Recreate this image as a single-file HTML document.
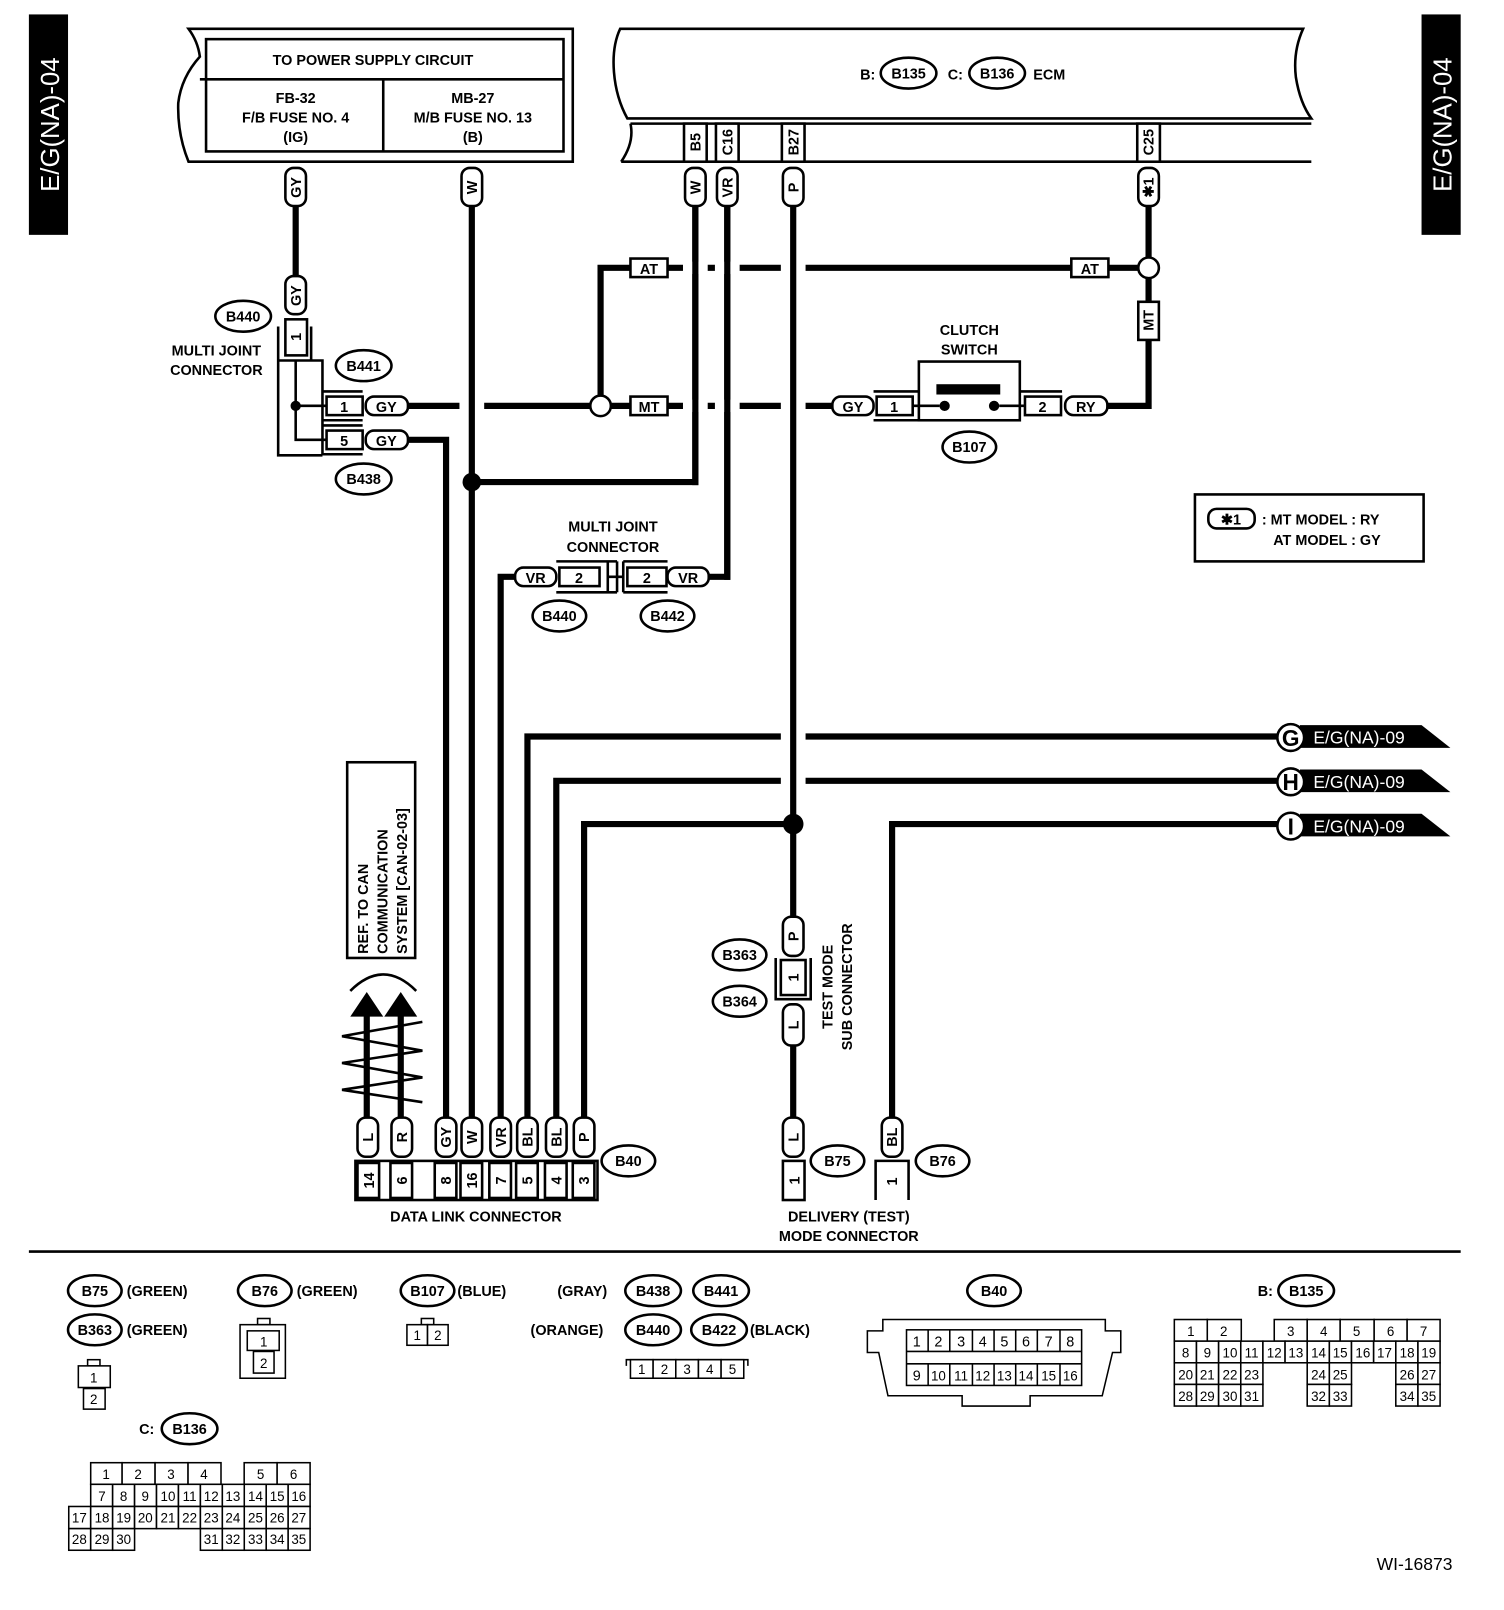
<!DOCTYPE html>
<html><head><meta charset="utf-8">
<style>
html,body{margin:0;padding:0;background:#fff;}
svg{display:block;}
text{font-family:"Liberation Sans",sans-serif;font-weight:bold;fill:#000;}
.t{font-size:14px;}
.n{font-size:13px;font-weight:normal;}
.pl{fill:#fff;stroke:#000;stroke-width:2.5;}
.bx{fill:#fff;stroke:#000;stroke-width:2.5;}
.w{stroke:#000;stroke-width:6;fill:none;}
.thin{stroke:#000;stroke-width:2.5;fill:none;}
.g{fill:#fff;stroke:#000;stroke-width:1.5;}
</style></head><body>
<svg width="1504" height="1610" viewBox="0 0 1460 1563" xmlns="http://www.w3.org/2000/svg">
<rect x="0" y="0" width="1460" height="1563" fill="#fff"/>

<!-- side tabs -->
<rect x="28" y="14" width="38" height="214" fill="#000"/>
<text transform="translate(57,121) rotate(-90)" text-anchor="middle" style="font-size:25px;font-weight:normal;fill:#fff">E/G(NA)-04</text>
<rect x="1380" y="14" width="38" height="214" fill="#000"/>
<text transform="translate(1409,121) rotate(-90)" text-anchor="middle" style="font-size:25px;font-weight:normal;fill:#fff">E/G(NA)-04</text>

<!-- power supply box -->
<path d="M183,28 L556,28 L556,157 L183,157 Q172,130 173,100 Q176,75 194,55 Q192,40 183,28 Z" class="thin" stroke-width="3"/>
<rect x="200" y="38" width="347" height="109" class="thin" stroke-width="3"/>
<line x1="194" y1="77" x2="547" y2="77" class="thin" stroke-width="3"/>
<line x1="372" y1="77" x2="372" y2="147" class="thin" stroke-width="3"/>
<text x="362" y="63" text-anchor="middle" class="t">TO POWER SUPPLY CIRCUIT</text>
<text x="287" y="100" text-anchor="middle" class="t">FB-32</text>
<text x="287" y="119" text-anchor="middle" class="t">F/B FUSE NO. 4</text>
<text x="287" y="138" text-anchor="middle" class="t">(IG)</text>
<text x="459" y="100" text-anchor="middle" class="t">MB-27</text>
<text x="459" y="119" text-anchor="middle" class="t">M/B FUSE NO. 13</text>
<text x="459" y="138" text-anchor="middle" class="t">(B)</text>

<!-- ECM box -->
<path d="M602,28 L1265,28 Q1255,50 1258,75 Q1262,100 1273,115 L609,115 Q598,95 596,70 Q594,45 602,28 Z" class="thin" stroke-width="3"/>
<path d="M612,120 L1273,120 M603,157 L1273,157 M612,120 Q616,138 603,157" class="thin" stroke-width="3"/>
<text x="835" y="77" class="t">B:</text>
<ellipse cx="882" cy="71" rx="27" ry="15" class="pl"/><text x="882" y="76" text-anchor="middle" class="t">B135</text>
<text x="920" y="77" class="t">C:</text>
<ellipse cx="968" cy="71" rx="27" ry="15" class="pl"/><text x="968" y="76" text-anchor="middle" class="t">B136</text>
<text x="1003" y="77" class="t">ECM</text>
<rect x="664" y="120" width="22" height="37" class="bx"/><text transform="translate(680,138) rotate(-90)" text-anchor="middle" class="t">B5</text>
<rect x="695" y="120" width="22" height="37" class="bx"/><text transform="translate(711,138) rotate(-90)" text-anchor="middle" class="t">C16</text>
<rect x="759" y="120" width="22" height="37" class="bx"/><text transform="translate(775,138) rotate(-90)" text-anchor="middle" class="t">B27</text>
<rect x="1104" y="120" width="22" height="37" class="bx"/><text transform="translate(1120,138) rotate(-90)" text-anchor="middle" class="t">C25</text>

<!-- horizontal wires -->
<polyline points="396,394 583,394" class="w"/>
<polyline points="583,394 583,260 1115,260" class="w"/>
<polyline points="583,394 808,394" class="w"/>
<polyline points="1075,394 1115,394 1115,200" class="w"/>
<polyline points="396,427 433,427 433,1085" class="w"/>
<polyline points="458,468 675,468 675,200" class="w"/>
<polyline points="706,200 706,560 688,560" class="w"/>
<polyline points="500,560 486,560 486,1085" class="w"/>
<polyline points="512,1085 512,715 1240,715" class="w"/>
<polyline points="540,1085 540,758 1240,758" class="w"/>
<polyline points="567,1085 567,800 770,800" class="w"/>
<polyline points="866,1085 866,800 1240,800" class="w"/>
<g fill="#fff">
<rect x="446" y="388" width="24" height="12"/>
<rect x="663" y="388" width="24" height="12"/>
<rect x="694" y="388" width="24" height="12"/>
<rect x="758" y="388" width="24" height="12"/>
<rect x="663" y="254" width="24" height="12"/>
<rect x="694" y="254" width="24" height="12"/>
<rect x="758" y="254" width="24" height="12"/>
<rect x="758" y="709" width="24" height="12"/>
<rect x="758" y="752" width="24" height="12"/>
</g>
<line x1="287" y1="200" x2="287" y2="268" class="w"/>
<line x1="458" y1="200" x2="458" y2="1085" class="w"/>
<line x1="675" y1="200" x2="675" y2="471" class="w"/>
<line x1="706" y1="200" x2="706" y2="563" class="w"/>
<line x1="770" y1="200" x2="770" y2="890" class="w"/>
<line x1="770" y1="1015" x2="770" y2="1085" class="w"/>
<circle cx="458" cy="468" r="9" fill="#000"/>
<circle cx="770" cy="800" r="10" fill="#000"/>
<circle cx="583" cy="394" r="10" fill="#fff" stroke="#000" stroke-width="2.5"/>
<circle cx="1115" cy="260" r="10" fill="#fff" stroke="#000" stroke-width="2.5"/>

<g>
<rect x="277" y="163" width="20" height="37" rx="8" class="pl"/><text transform="translate(292,182) rotate(-90)" text-anchor="middle" class="t">GY</text>
<rect x="448" y="163" width="20" height="37" rx="8" class="pl"/><text transform="translate(463,182) rotate(-90)" text-anchor="middle" class="t">W</text>
<rect x="665" y="163" width="20" height="37" rx="8" class="pl"/><text transform="translate(680,182) rotate(-90)" text-anchor="middle" class="t">W</text>
<rect x="696" y="163" width="20" height="37" rx="8" class="pl"/><text transform="translate(711,182) rotate(-90)" text-anchor="middle" class="t">VR</text>
<rect x="760" y="163" width="20" height="37" rx="8" class="pl"/><text transform="translate(775,182) rotate(-90)" text-anchor="middle" class="t">P</text>
<rect x="1105" y="163" width="20" height="37" rx="8" class="pl"/><text transform="translate(1120,182) rotate(-90)" text-anchor="middle" class="t">✱1</text>
<rect x="277" y="268" width="20" height="37" rx="8" class="pl"/><text transform="translate(292,287) rotate(-90)" text-anchor="middle" class="t">GY</text>
</g>

<rect x="612" y="251" width="36" height="18" class="bx"/><text x="630" y="266" text-anchor="middle" class="t">AT</text>
<rect x="1040" y="251" width="36" height="18" class="bx"/><text x="1058" y="266" text-anchor="middle" class="t">AT</text>
<rect x="612" y="385" width="36" height="18" class="bx"/><text x="630" y="400" text-anchor="middle" class="t">MT</text>
<rect x="1105" y="293" width="20" height="37" class="bx"/><text transform="translate(1120,311) rotate(-90)" text-anchor="middle" class="t">MT</text>

<ellipse cx="236" cy="307" rx="27" ry="15" class="pl"/><text x="236" y="312" text-anchor="middle" class="t">B440</text>
<text x="210" y="345" text-anchor="middle" class="t">MULTI JOINT</text>
<text x="210" y="364" text-anchor="middle" class="t">CONNECTOR</text>
<rect x="277" y="310" width="21" height="35" class="bx"/><text transform="translate(292,327) rotate(-90)" text-anchor="middle" class="t">1</text>
<path d="M270,317 L270,442 L313,442 M302,317 L302,350 L313,350 L313,442 M270,350 L302,350" class="thin"/>
<path d="M287,350 L287,427 L316,427 M287,394 L316,394" class="thin"/>
<circle cx="287" cy="394" r="5" fill="#000"/>
<path d="M313,380 L352,380 M313,408 L352,408 M313,413 L352,413 M313,441 L352,441" class="thin" stroke-width="2"/>
<rect x="317" y="385" width="35" height="18" class="bx"/><text x="334" y="400" text-anchor="middle" class="t">1</text>
<rect x="317" y="418" width="35" height="18" class="bx"/><text x="334" y="433" text-anchor="middle" class="t">5</text>
<rect x="355" y="385" width="41" height="18" rx="8" class="pl"/><text x="375" y="400" text-anchor="middle" class="t">GY</text>
<rect x="355" y="418" width="41" height="18" rx="8" class="pl"/><text x="375" y="433" text-anchor="middle" class="t">GY</text>
<ellipse cx="353" cy="355" rx="27" ry="15" class="pl"/><text x="353" y="360" text-anchor="middle" class="t">B441</text>
<ellipse cx="353" cy="465" rx="27" ry="15" class="pl"/><text x="353" y="470" text-anchor="middle" class="t">B438</text>

<text x="941" y="325" text-anchor="middle" class="t">CLUTCH</text>
<text x="941" y="344" text-anchor="middle" class="t">SWITCH</text>
<rect x="808" y="385" width="40" height="18" rx="8" class="pl"/><text x="828" y="400" text-anchor="middle" class="t">GY</text>
<path d="M848,380 L892,380 M848,408 L990,408 M990,380 L1031,380" class="thin" stroke-width="2"/>
<rect x="851" y="385" width="35" height="18" class="bx"/><text x="868" y="400" text-anchor="middle" class="t">1</text>
<rect x="892" y="351" width="98" height="57" class="bx"/>
<rect x="909" y="373" width="62" height="10" fill="#000"/>
<circle cx="917" cy="394" r="5" fill="#000"/><circle cx="965" cy="394" r="5" fill="#000"/>
<line x1="886" y1="394" x2="912" y2="394" class="thin" stroke-width="2"/>
<line x1="970" y1="394" x2="995" y2="394" class="thin" stroke-width="2"/>
<rect x="995" y="385" width="35" height="18" class="bx"/><text x="1012" y="400" text-anchor="middle" class="t">2</text>
<rect x="1034" y="385" width="41" height="18" rx="8" class="pl"/><text x="1054" y="400" text-anchor="middle" class="t">RY</text>
<ellipse cx="941" cy="434" rx="26" ry="15" class="pl"/><text x="941" y="439" text-anchor="middle" class="t">B107</text>

<rect x="1160" y="480" width="222" height="65" class="thin"/>
<rect x="1173" y="494" width="45" height="19" rx="8" class="pl"/><text x="1195" y="509" text-anchor="middle" class="t">✱1</text>
<text x="1225" y="509" class="t">: MT MODEL : RY</text>
<text x="1236" y="529" class="t">AT MODEL  : GY</text>

<text x="595" y="516" text-anchor="middle" class="t">MULTI JOINT</text>
<text x="595" y="536" text-anchor="middle" class="t">CONNECTOR</text>
<path d="M540,545 L599,545 M540,575 L599,575 M605,545 L648,545 M605,575 L648,575 M590,545 L590,575 M605,545 L605,575 M590,560 L605,560 M599,545 L599,575" class="thin" stroke-width="2"/>
<rect x="500" y="551" width="40" height="18" rx="8" class="pl"/><text x="520" y="566" text-anchor="middle" class="t">VR</text>
<rect x="543" y="551" width="39" height="18" class="bx"/><text x="562" y="566" text-anchor="middle" class="t">2</text>
<rect x="609" y="551" width="38" height="18" class="bx"/><text x="628" y="566" text-anchor="middle" class="t">2</text>
<rect x="648" y="551" width="40" height="18" rx="8" class="pl"/><text x="668" y="566" text-anchor="middle" class="t">VR</text>
<ellipse cx="543" cy="598" rx="26" ry="15" class="pl"/><text x="543" y="603" text-anchor="middle" class="t">B440</text>
<ellipse cx="648" cy="598" rx="26" ry="15" class="pl"/><text x="648" y="603" text-anchor="middle" class="t">B442</text>

<g>
<path d="M1262,704 L1380,704 L1408,726 L1262,726 Z" fill="#000"/>
<circle cx="1253" cy="716" r="13" fill="#fff" stroke="#000" stroke-width="2.5"/>
<text x="1253" y="724" text-anchor="middle" style="font-size:22px">G</text>
<text x="1275" y="722" style="font-size:17px;font-weight:normal;fill:#fff">E/G(NA)-09</text>
<path d="M1262,747 L1380,747 L1408,769 L1262,769 Z" fill="#000"/>
<circle cx="1253" cy="759" r="13" fill="#fff" stroke="#000" stroke-width="2.5"/>
<text x="1253" y="767" text-anchor="middle" style="font-size:22px">H</text>
<text x="1275" y="765" style="font-size:17px;font-weight:normal;fill:#fff">E/G(NA)-09</text>
<path d="M1262,790 L1380,790 L1408,812 L1262,812 Z" fill="#000"/>
<circle cx="1253" cy="802" r="13" fill="#fff" stroke="#000" stroke-width="2.5"/>
<text x="1253" y="810" text-anchor="middle" style="font-size:22px">I</text>
<text x="1275" y="808" style="font-size:17px;font-weight:normal;fill:#fff">E/G(NA)-09</text>
</g>

<rect x="337" y="740" width="66" height="190" class="thin"/>
<text transform="translate(357,926) rotate(-90)" class="t">REF. TO CAN</text>
<text transform="translate(376,926) rotate(-90)" class="t">COMMUNICATION</text>
<text transform="translate(395,926) rotate(-90)" class="t">SYSTEM [CAN-02-03]</text>

<path d="M340,962 Q372,930 404,962" class="thin" stroke-width="2"/>
<line x1="356" y1="980" x2="356" y2="1085" class="w" stroke-width="7"/>
<line x1="389" y1="980" x2="389" y2="1085" class="w" stroke-width="7"/>
<polygon points="356,963 340,987 372,987" fill="#000"/>
<polygon points="389,963 373,987 405,987" fill="#000"/>
<polyline points="410,992 332,1006 410,1020 332,1032 410,1046 332,1058 410,1070" class="thin" stroke-width="3"/>

<g>
<rect x="347" y="1085" width="20" height="38" rx="8" class="pl"/><text transform="translate(362,1104) rotate(-90)" text-anchor="middle" class="t">L</text>
<rect x="380" y="1085" width="20" height="38" rx="8" class="pl"/><text transform="translate(395,1104) rotate(-90)" text-anchor="middle" class="t">R</text>
<rect x="423" y="1085" width="20" height="38" rx="8" class="pl"/><text transform="translate(438,1104) rotate(-90)" text-anchor="middle" class="t">GY</text>
<rect x="448" y="1085" width="20" height="38" rx="8" class="pl"/><text transform="translate(463,1104) rotate(-90)" text-anchor="middle" class="t">W</text>
<rect x="476" y="1085" width="20" height="38" rx="8" class="pl"/><text transform="translate(491,1104) rotate(-90)" text-anchor="middle" class="t">VR</text>
<rect x="502" y="1085" width="20" height="38" rx="8" class="pl"/><text transform="translate(517,1104) rotate(-90)" text-anchor="middle" class="t">BL</text>
<rect x="530" y="1085" width="20" height="38" rx="8" class="pl"/><text transform="translate(545,1104) rotate(-90)" text-anchor="middle" class="t">BL</text>
<rect x="557" y="1085" width="20" height="38" rx="8" class="pl"/><text transform="translate(572,1104) rotate(-90)" text-anchor="middle" class="t">P</text>
</g>
<rect x="345" y="1127" width="235" height="38" class="bx"/>
<g class="thin" stroke-width="2">
<rect x="347" y="1129" width="21" height="34"/><rect x="379" y="1129" width="21" height="34"/>
<rect x="422" y="1129" width="21" height="34"/><rect x="447" y="1129" width="21" height="34"/>
<rect x="475" y="1129" width="21" height="34"/><rect x="501" y="1129" width="21" height="34"/>
<rect x="529" y="1129" width="21" height="34"/><rect x="556" y="1129" width="21" height="34"/>
</g>
<text transform="translate(363,1146) rotate(-90)" text-anchor="middle" class="t">14</text>
<text transform="translate(395,1146) rotate(-90)" text-anchor="middle" class="t">6</text>
<text transform="translate(438,1146) rotate(-90)" text-anchor="middle" class="t">8</text>
<text transform="translate(463,1146) rotate(-90)" text-anchor="middle" class="t">16</text>
<text transform="translate(491,1146) rotate(-90)" text-anchor="middle" class="t">7</text>
<text transform="translate(517,1146) rotate(-90)" text-anchor="middle" class="t">5</text>
<text transform="translate(545,1146) rotate(-90)" text-anchor="middle" class="t">4</text>
<text transform="translate(572,1146) rotate(-90)" text-anchor="middle" class="t">3</text>
<ellipse cx="610" cy="1127" rx="26" ry="15" class="pl"/><text x="610" y="1132" text-anchor="middle" class="t">B40</text>
<text x="462" y="1186" text-anchor="middle" class="t">DATA LINK CONNECTOR</text>

<rect x="760" y="890" width="20" height="38" rx="8" class="pl"/><text transform="translate(775,909) rotate(-90)" text-anchor="middle" class="t">P</text>
<path d="M753,930 L753,970 L787,970 L787,930" class="thin" stroke-width="2"/>
<rect x="758" y="932" width="24" height="34" class="bx"/><text transform="translate(775,949) rotate(-90)" text-anchor="middle" class="t">1</text>
<rect x="760" y="975" width="20" height="40" rx="8" class="pl"/><text transform="translate(775,995) rotate(-90)" text-anchor="middle" class="t">L</text>
<ellipse cx="718" cy="927" rx="26" ry="15" class="pl"/><text x="718" y="932" text-anchor="middle" class="t">B363</text>
<ellipse cx="718" cy="972" rx="26" ry="15" class="pl"/><text x="718" y="977" text-anchor="middle" class="t">B364</text>
<text transform="translate(808,958) rotate(-90)" text-anchor="middle" class="t">TEST MODE</text>
<text transform="translate(827,958) rotate(-90)" text-anchor="middle" class="t">SUB CONNECTOR</text>

<rect x="760" y="1085" width="20" height="38" rx="8" class="pl"/><text transform="translate(775,1104) rotate(-90)" text-anchor="middle" class="t">L</text>
<rect x="760" y="1127" width="21" height="38" class="bx"/><text transform="translate(776,1146) rotate(-90)" text-anchor="middle" class="t">1</text>
<ellipse cx="813" cy="1127" rx="26" ry="15" class="pl"/><text x="813" y="1132" text-anchor="middle" class="t">B75</text>
<rect x="856" y="1085" width="20" height="38" rx="8" class="pl"/><text transform="translate(871,1104) rotate(-90)" text-anchor="middle" class="t">BL</text>
<path d="M850,1165 L850,1127 L882,1127 L882,1165" class="thin"/>
<text transform="translate(871,1147) rotate(-90)" text-anchor="middle" class="t">1</text>
<ellipse cx="915" cy="1127" rx="26" ry="15" class="pl"/><text x="915" y="1132" text-anchor="middle" class="t">B76</text>
<text x="824" y="1186" text-anchor="middle" class="t">DELIVERY (TEST)</text>
<text x="824" y="1205" text-anchor="middle" class="t">MODE CONNECTOR</text>

<line x1="28" y1="1215" x2="1418" y2="1215" class="thin" stroke-width="3"/>

<ellipse cx="92" cy="1253" rx="26" ry="15" class="pl"/><text x="92" y="1258" text-anchor="middle" class="t">B75</text>
<text x="123" y="1258" class="t">(GREEN)</text>
<ellipse cx="92" cy="1291" rx="26" ry="15" class="pl"/><text x="92" y="1296" text-anchor="middle" class="t">B363</text>
<text x="123" y="1296" class="t">(GREEN)</text>
<rect x="85" y="1320" width="12" height="6" class="g"/>
<rect x="76" y="1326" width="31" height="21" class="g"/><text x="91" y="1342" text-anchor="middle" class="n">1</text>
<rect x="81" y="1348" width="21" height="20" class="g"/><text x="91" y="1363" text-anchor="middle" class="n">2</text>

<ellipse cx="257" cy="1253" rx="26" ry="15" class="pl"/><text x="257" y="1258" text-anchor="middle" class="t">B76</text>
<text x="288" y="1258" class="t">(GREEN)</text>
<rect x="250" y="1280" width="12" height="6" class="g"/>
<rect x="233" y="1286" width="44" height="52" class="g"/>
<rect x="240" y="1292" width="31" height="19" class="g"/><text x="256" y="1307" text-anchor="middle" class="n">1</text>
<rect x="246" y="1312" width="20" height="21" class="g"/><text x="256" y="1328" text-anchor="middle" class="n">2</text>

<ellipse cx="415" cy="1253" rx="26" ry="15" class="pl"/><text x="415" y="1258" text-anchor="middle" class="t">B107</text>
<text x="444" y="1258" class="t">(BLUE)</text>
<rect x="409" y="1280" width="12" height="6" class="g"/>
<rect x="395" y="1286" width="20" height="20" class="g"/><text x="405" y="1301" text-anchor="middle" class="n">1</text>
<rect x="415" y="1286" width="20" height="20" class="g"/><text x="425" y="1301" text-anchor="middle" class="n">2</text>

<text x="541" y="1258" class="t">(GRAY)</text>
<ellipse cx="634" cy="1253" rx="27" ry="15" class="pl"/><text x="634" y="1258" text-anchor="middle" class="t">B438</text>
<ellipse cx="700" cy="1253" rx="27" ry="15" class="pl"/><text x="700" y="1258" text-anchor="middle" class="t">B441</text>
<text x="515" y="1296" class="t">(ORANGE)</text>
<ellipse cx="634" cy="1291" rx="27" ry="15" class="pl"/><text x="634" y="1296" text-anchor="middle" class="t">B440</text>
<ellipse cx="698" cy="1291" rx="27" ry="15" class="pl"/><text x="698" y="1296" text-anchor="middle" class="t">B422</text>
<text x="728" y="1296" class="t">(BLACK)</text>
<path d="M608,1326 L608,1320 L726,1320 L726,1326" class="g" fill="none"/>
<g>
<rect x="612" y="1320" width="22" height="18" class="g"/><text x="623" y="1334" text-anchor="middle" class="n">1</text>
<rect x="634" y="1320" width="22" height="18" class="g"/><text x="645" y="1334" text-anchor="middle" class="n">2</text>
<rect x="656" y="1320" width="22" height="18" class="g"/><text x="667" y="1334" text-anchor="middle" class="n">3</text>
<rect x="678" y="1320" width="22" height="18" class="g"/><text x="689" y="1334" text-anchor="middle" class="n">4</text>
<rect x="700" y="1320" width="22" height="18" class="g"/><text x="711" y="1334" text-anchor="middle" class="n">5</text>
</g>

<ellipse cx="965" cy="1253" rx="26" ry="15" class="pl"/><text x="965" y="1258" text-anchor="middle" class="t">B40</text>
<path d="M857,1281 L1073,1281 L1073,1292 L1088,1292 L1088,1313 L1080,1313 L1070,1355 L1000,1355 L1000,1365 L934,1365 L934,1355 L862,1355 L853,1313 L842,1313 L842,1292 L857,1292 Z" class="g" fill="#fff"/>
<rect x="880" y="1291" width="170" height="54" class="g"/>
<line x1="880" y1="1312" x2="1050" y2="1312" class="g"/><line x1="880" y1="1324" x2="1050" y2="1324" class="g"/>
<g class="g">
<line x1="901" y1="1291" x2="901" y2="1312"/><line x1="922" y1="1291" x2="922" y2="1312"/><line x1="944" y1="1291" x2="944" y2="1312"/><line x1="965" y1="1291" x2="965" y2="1312"/><line x1="986" y1="1291" x2="986" y2="1312"/><line x1="1007" y1="1291" x2="1007" y2="1312"/><line x1="1029" y1="1291" x2="1029" y2="1312"/>
<line x1="901" y1="1324" x2="901" y2="1345"/><line x1="922" y1="1324" x2="922" y2="1345"/><line x1="944" y1="1324" x2="944" y2="1345"/><line x1="965" y1="1324" x2="965" y2="1345"/><line x1="986" y1="1324" x2="986" y2="1345"/><line x1="1007" y1="1324" x2="1007" y2="1345"/><line x1="1029" y1="1324" x2="1029" y2="1345"/>
</g>
<g>
<text x="890" y="1307" text-anchor="middle" class="n" style="font-size:14px">1</text><text x="911" y="1307" text-anchor="middle" class="n" style="font-size:14px">2</text><text x="933" y="1307" text-anchor="middle" class="n" style="font-size:14px">3</text><text x="954" y="1307" text-anchor="middle" class="n" style="font-size:14px">4</text><text x="975" y="1307" text-anchor="middle" class="n" style="font-size:14px">5</text><text x="996" y="1307" text-anchor="middle" class="n" style="font-size:14px">6</text><text x="1018" y="1307" text-anchor="middle" class="n" style="font-size:14px">7</text><text x="1039" y="1307" text-anchor="middle" class="n" style="font-size:14px">8</text>
<text x="890" y="1340" text-anchor="middle" class="n" style="font-size:14px">9</text><text x="911" y="1340" text-anchor="middle" class="n">10</text><text x="933" y="1340" text-anchor="middle" class="n">11</text><text x="954" y="1340" text-anchor="middle" class="n">12</text><text x="975" y="1340" text-anchor="middle" class="n">13</text><text x="996" y="1340" text-anchor="middle" class="n">14</text><text x="1018" y="1340" text-anchor="middle" class="n">15</text><text x="1039" y="1340" text-anchor="middle" class="n">16</text>
</g>

<text x="1221" y="1258" class="t">B:</text>
<ellipse cx="1268" cy="1253" rx="27" ry="15" class="pl"/><text x="1268" y="1258" text-anchor="middle" class="t">B135</text>
<g class="g">
<rect x="1140" y="1281" width="32" height="21"/><rect x="1172" y="1281" width="33" height="21"/>
<rect x="1237" y="1281" width="32" height="21"/><rect x="1269" y="1281" width="32" height="21"/><rect x="1301" y="1281" width="33" height="21"/><rect x="1334" y="1281" width="32" height="21"/><rect x="1366" y="1281" width="32" height="21"/>
<rect x="1140" y="1302" width="21.5" height="21"/><rect x="1161.5" y="1302" width="21.5" height="21"/><rect x="1183" y="1302" width="21.5" height="21"/><rect x="1204.5" y="1302" width="21.5" height="21"/><rect x="1226" y="1302" width="21.5" height="21"/><rect x="1247.5" y="1302" width="21.5" height="21"/><rect x="1269" y="1302" width="21.5" height="21"/><rect x="1290.5" y="1302" width="21.5" height="21"/><rect x="1312" y="1302" width="21.5" height="21"/><rect x="1333.5" y="1302" width="21.5" height="21"/><rect x="1355" y="1302" width="21.5" height="21"/><rect x="1376.5" y="1302" width="21.5" height="21"/>
<rect x="1140" y="1323" width="21.5" height="21"/><rect x="1161.5" y="1323" width="21.5" height="21"/><rect x="1183" y="1323" width="21.5" height="21"/><rect x="1204.5" y="1323" width="21.5" height="21"/><rect x="1269" y="1323" width="21.5" height="21"/><rect x="1290.5" y="1323" width="21.5" height="21"/><rect x="1355" y="1323" width="21.5" height="21"/><rect x="1376.5" y="1323" width="21.5" height="21"/>
<rect x="1140" y="1344" width="21.5" height="21"/><rect x="1161.5" y="1344" width="21.5" height="21"/><rect x="1183" y="1344" width="21.5" height="21"/><rect x="1204.5" y="1344" width="21.5" height="21"/><rect x="1269" y="1344" width="21.5" height="21"/><rect x="1290.5" y="1344" width="21.5" height="21"/><rect x="1355" y="1344" width="21.5" height="21"/><rect x="1376.5" y="1344" width="21.5" height="21"/>
</g>
<g>
<text x="1156" y="1297" text-anchor="middle" class="n">1</text><text x="1188" y="1297" text-anchor="middle" class="n">2</text><text x="1253" y="1297" text-anchor="middle" class="n">3</text><text x="1285" y="1297" text-anchor="middle" class="n">4</text><text x="1317" y="1297" text-anchor="middle" class="n">5</text><text x="1350" y="1297" text-anchor="middle" class="n">6</text><text x="1382" y="1297" text-anchor="middle" class="n">7</text>
<text x="1151" y="1318" text-anchor="middle" class="n">8</text><text x="1172" y="1318" text-anchor="middle" class="n">9</text><text x="1194" y="1318" text-anchor="middle" class="n">10</text><text x="1215" y="1318" text-anchor="middle" class="n">11</text><text x="1237" y="1318" text-anchor="middle" class="n">12</text><text x="1258" y="1318" text-anchor="middle" class="n">13</text><text x="1280" y="1318" text-anchor="middle" class="n">14</text><text x="1301" y="1318" text-anchor="middle" class="n">15</text><text x="1323" y="1318" text-anchor="middle" class="n">16</text><text x="1344" y="1318" text-anchor="middle" class="n">17</text><text x="1366" y="1318" text-anchor="middle" class="n">18</text><text x="1387" y="1318" text-anchor="middle" class="n">19</text>
<text x="1151" y="1339" text-anchor="middle" class="n">20</text><text x="1172" y="1339" text-anchor="middle" class="n">21</text><text x="1194" y="1339" text-anchor="middle" class="n">22</text><text x="1215" y="1339" text-anchor="middle" class="n">23</text><text x="1280" y="1339" text-anchor="middle" class="n">24</text><text x="1301" y="1339" text-anchor="middle" class="n">25</text><text x="1366" y="1339" text-anchor="middle" class="n">26</text><text x="1387" y="1339" text-anchor="middle" class="n">27</text>
<text x="1151" y="1360" text-anchor="middle" class="n">28</text><text x="1172" y="1360" text-anchor="middle" class="n">29</text><text x="1194" y="1360" text-anchor="middle" class="n">30</text><text x="1215" y="1360" text-anchor="middle" class="n">31</text><text x="1280" y="1360" text-anchor="middle" class="n">32</text><text x="1301" y="1360" text-anchor="middle" class="n">33</text><text x="1366" y="1360" text-anchor="middle" class="n">34</text><text x="1387" y="1360" text-anchor="middle" class="n">35</text>
</g>

<text x="135" y="1392" class="t">C:</text>
<ellipse cx="184" cy="1387" rx="27" ry="15" class="pl"/><text x="184" y="1392" text-anchor="middle" class="t">B136</text>
<g class="g">
<rect x="88" y="1420" width="30.5" height="21"/><rect x="118.5" y="1420" width="32" height="21"/><rect x="150.5" y="1420" width="32" height="21"/><rect x="182.5" y="1420" width="32" height="21"/><rect x="237" y="1420" width="32" height="21"/><rect x="269" y="1420" width="32" height="21"/>
<rect x="88" y="1441" width="21.3" height="21.5"/><rect x="109.3" y="1441" width="21.3" height="21.5"/><rect x="130.6" y="1441" width="21.3" height="21.5"/><rect x="151.9" y="1441" width="21.3" height="21.5"/><rect x="173.2" y="1441" width="21.3" height="21.5"/><rect x="194.5" y="1441" width="21.3" height="21.5"/><rect x="215.8" y="1441" width="21.3" height="21.5"/><rect x="237.1" y="1441" width="21.3" height="21.5"/><rect x="258.4" y="1441" width="21.3" height="21.5"/><rect x="279.7" y="1441" width="21.3" height="21.5"/>
<rect x="66.7" y="1462.5" width="21.3" height="21.5"/><rect x="88" y="1462.5" width="21.3" height="21.5"/><rect x="109.3" y="1462.5" width="21.3" height="21.5"/><rect x="130.6" y="1462.5" width="21.3" height="21.5"/><rect x="151.9" y="1462.5" width="21.3" height="21.5"/><rect x="173.2" y="1462.5" width="21.3" height="21.5"/><rect x="194.5" y="1462.5" width="21.3" height="21.5"/><rect x="215.8" y="1462.5" width="21.3" height="21.5"/><rect x="237.1" y="1462.5" width="21.3" height="21.5"/><rect x="258.4" y="1462.5" width="21.3" height="21.5"/><rect x="279.7" y="1462.5" width="21.3" height="21.5"/>
<rect x="66.7" y="1484" width="21.3" height="21"/><rect x="88" y="1484" width="21.3" height="21"/><rect x="109.3" y="1484" width="21.3" height="21"/><rect x="194.5" y="1484" width="21.3" height="21"/><rect x="215.8" y="1484" width="21.3" height="21"/><rect x="237.1" y="1484" width="21.3" height="21"/><rect x="258.4" y="1484" width="21.3" height="21"/><rect x="279.7" y="1484" width="21.3" height="21"/>
</g>
<g>
<text x="103" y="1436" text-anchor="middle" class="n">1</text><text x="134" y="1436" text-anchor="middle" class="n">2</text><text x="166" y="1436" text-anchor="middle" class="n">3</text><text x="198" y="1436" text-anchor="middle" class="n">4</text><text x="253" y="1436" text-anchor="middle" class="n">5</text><text x="285" y="1436" text-anchor="middle" class="n">6</text>
<text x="99" y="1457" text-anchor="middle" class="n">7</text><text x="120" y="1457" text-anchor="middle" class="n">8</text><text x="141" y="1457" text-anchor="middle" class="n">9</text><text x="163" y="1457" text-anchor="middle" class="n">10</text><text x="184" y="1457" text-anchor="middle" class="n">11</text><text x="205" y="1457" text-anchor="middle" class="n">12</text><text x="226" y="1457" text-anchor="middle" class="n">13</text><text x="248" y="1457" text-anchor="middle" class="n">14</text><text x="269" y="1457" text-anchor="middle" class="n">15</text><text x="290" y="1457" text-anchor="middle" class="n">16</text>
<text x="77" y="1478" text-anchor="middle" class="n">17</text><text x="99" y="1478" text-anchor="middle" class="n">18</text><text x="120" y="1478" text-anchor="middle" class="n">19</text><text x="141" y="1478" text-anchor="middle" class="n">20</text><text x="163" y="1478" text-anchor="middle" class="n">21</text><text x="184" y="1478" text-anchor="middle" class="n">22</text><text x="205" y="1478" text-anchor="middle" class="n">23</text><text x="226" y="1478" text-anchor="middle" class="n">24</text><text x="248" y="1478" text-anchor="middle" class="n">25</text><text x="269" y="1478" text-anchor="middle" class="n">26</text><text x="290" y="1478" text-anchor="middle" class="n">27</text>
<text x="77" y="1499" text-anchor="middle" class="n">28</text><text x="99" y="1499" text-anchor="middle" class="n">29</text><text x="120" y="1499" text-anchor="middle" class="n">30</text><text x="205" y="1499" text-anchor="middle" class="n">31</text><text x="226" y="1499" text-anchor="middle" class="n">32</text><text x="248" y="1499" text-anchor="middle" class="n">33</text><text x="269" y="1499" text-anchor="middle" class="n">34</text><text x="290" y="1499" text-anchor="middle" class="n">35</text>
</g>

<text x="1410" y="1524" text-anchor="end" style="font-size:17px;font-weight:normal">WI-16873</text>
</svg>
</body></html>
